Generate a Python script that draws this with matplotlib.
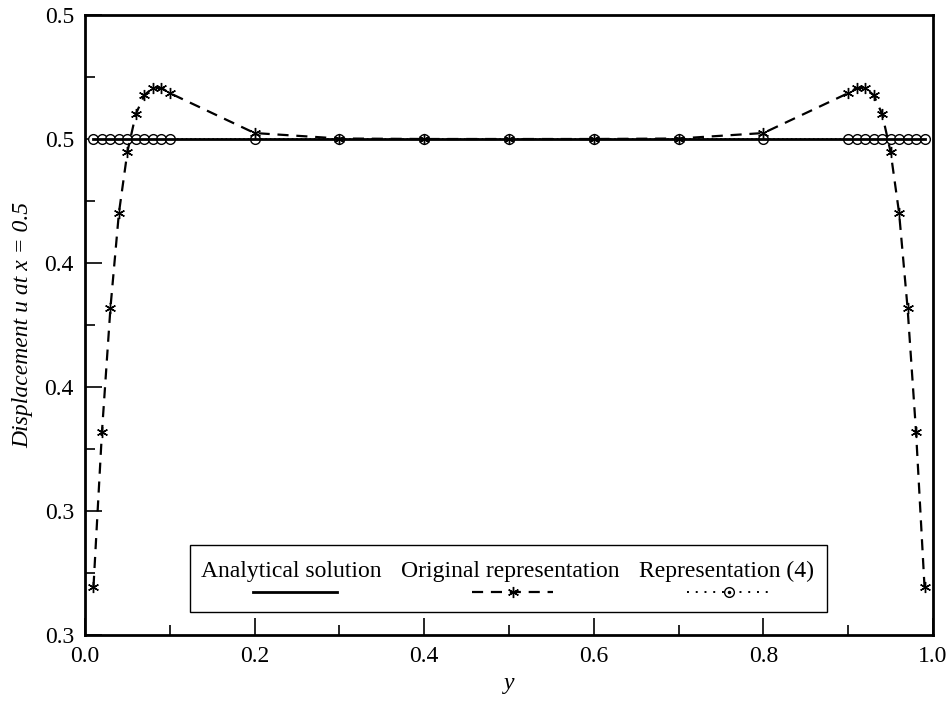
import matplotlib.pyplot as plt
from matplotlib.lines import Line2D
from matplotlib.patches import Rectangle

plt.rcParams['font.family'] = ['Liberation Serif', 'DejaVu Serif']

# sample points along y
y_pts = [0.01, 0.02, 0.03, 0.04, 0.05, 0.06, 0.07, 0.08, 0.09, 0.10,
         0.2, 0.3, 0.4, 0.5, 0.6, 0.7, 0.8,
         0.90, 0.91, 0.92, 0.93, 0.94, 0.95, 0.96, 0.97, 0.98, 0.99]

analytical = [0.5] * len(y_pts)
original = [0.3194, 0.3819, 0.4319, 0.4702, 0.4948, 0.5101, 0.5177, 0.5206, 0.5206, 0.5185,
            0.5024, 0.5002, 0.5, 0.5, 0.5, 0.5002, 0.5024,
            0.5185, 0.5206, 0.5206, 0.5177, 0.5101, 0.4948, 0.4702, 0.4319, 0.3819, 0.3194]
rep4 = [0.5] * len(y_pts)

yticks = [0.30, 0.35, 0.40, 0.45, 0.50, 0.55]
ytick_labels = ['0.3', '0.3', '0.4', '0.4', '0.5', '0.5']
xticks = [0.0, 0.2, 0.4, 0.6, 0.8, 1.0]
xtick_labels = ['0.0', '0.2', '0.4', '0.6', '0.8', '1.0']

ASTER = (6, 2, 0)
DASH = (0, (5, 3.5))

fig = plt.figure(figsize=(9.5, 7.04), dpi=100)
ax = fig.add_axes([85 / 950, 1 - 635 / 704, 848 / 950, 620 / 704])

ax.plot(y_pts, rep4, color='black', lw=1.2, ls=':', marker='o', ms=7,
        mfc='white', mec='black', mew=1.0, zorder=2)
ax.plot(y_pts, analytical, color='black', lw=2.0, zorder=3)
ax.plot(y_pts, original, color='black', lw=1.6, ls=DASH, marker=ASTER, ms=8,
        mfc='black', mec='black', mew=1.0, zorder=4)

ax.set_xlim(0, 1)
ax.set_ylim(0.30, 0.55)
ax.set_xticks(xticks)
ax.set_xticklabels(xtick_labels)
ax.set_yticks(yticks)
ax.set_yticklabels(ytick_labels)
ax.set_xticks([0.1, 0.3, 0.5, 0.7, 0.9], minor=True)
ax.set_yticks([0.325, 0.375, 0.425, 0.475, 0.525], minor=True)
ax.tick_params(which='both', direction='in', labelsize=17, width=1.2)
ax.tick_params(which='major', length=12, pad=8)
ax.tick_params(which='minor', length=7)
for s in ax.spines.values():
    s.set_linewidth(2)

ax.set_xlabel('y', fontsize=17, style='italic', labelpad=4)
ax.set_ylabel('Displacement u at x = 0.5', fontsize=17, style='italic', labelpad=8)

# legend box drawn by hand: labels above handles
tr = ax.transAxes
def ax_xy(px, py):
    return ((px - 85) / 848, (635 - py) / 620)

x0, y0 = ax_xy(190, 612)
x1, y1 = ax_xy(827, 545)
ax.add_patch(Rectangle((x0, y0), x1 - x0, y1 - y0, transform=tr, fill=True,
                       fc='white', ec='black', lw=1.0, zorder=6))

entries = [
    ('Analytical solution', 291, 253, 337, dict(ls='-', lw=2.0), None),
    ('Original representation', 510, 472, 553, dict(ls=DASH, lw=1.6), ASTER),
    ('Representation (4)', 726, 687, 770, dict(ls=(0, (1, 3.5)), lw=1.4), 'o'),
]
for label, cx, hx0, hx1, style, mk in entries:
    tx, ty = ax_xy(cx, 571)
    ax.text(tx, ty, label, transform=tr, ha='center', va='center', fontsize=17, zorder=7)
    lx0, ly = ax_xy(hx0, 592)
    lx1, _ = ax_xy(hx1, 592)
    ax.add_line(Line2D([lx0, lx1], [ly, ly], transform=tr, color='black', zorder=7, **style))
    if mk is not None:
        mx = ((hx0 + hx1) / 2 - 85) / 848
        ax.add_line(Line2D([mx], [ly], transform=tr, marker=mk, ms=7 if mk == 'o' else 8,
                           mfc='white' if mk == 'o' else 'black', mec='black', mew=1.0,
                           ls='none', zorder=8))
        if mk == 'o':
            ax.add_line(Line2D([mx], [ly], transform=tr, marker='.', ms=3, color='black',
                               ls='none', zorder=9))

fig.savefig('out.png', dpi=100)
